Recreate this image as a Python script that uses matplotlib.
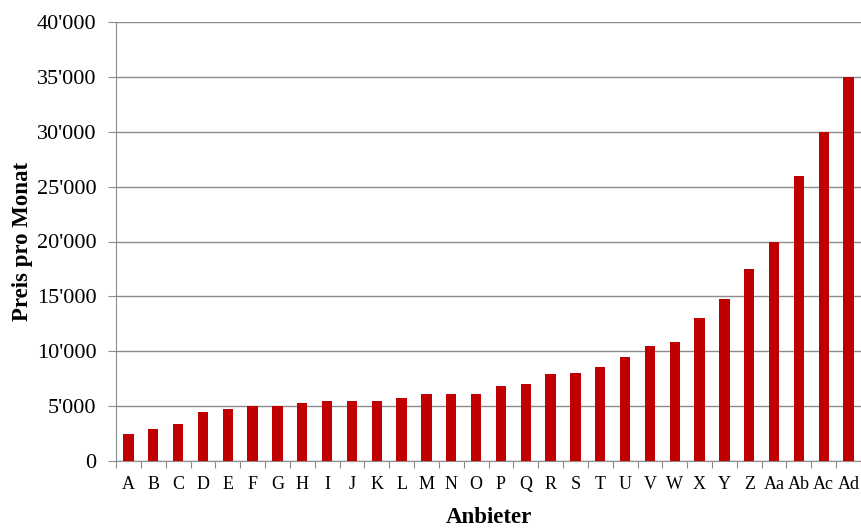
import numpy as np
import matplotlib.pyplot as plt
from matplotlib.ticker import FuncFormatter, MultipleLocator

anbieter = ['A', 'B', 'C', 'D', 'E', 'F', 'G', 'H', 'I', 'J', 'K', 'L', 'M', 'N', 'O',
            'P', 'Q', 'R', 'S', 'T', 'U', 'V', 'W', 'X', 'Y', 'Z', 'Aa', 'Ab', 'Ac', 'Ad']
preis = [2500, 2900, 3350, 4500, 4750, 5000, 5000, 5300, 5500, 5500, 5500, 5750, 6100, 6150, 6150,
         6800, 7000, 7950, 8000, 8550, 9500, 10500, 10800, 13000, 14800, 17500, 20000, 26000, 30000, 35000]

plt.rcParams['font.family'] = ['Liberation Serif', 'DejaVu Serif']
plt.rcParams['font.size'] = 12

fig = plt.figure(figsize=(8.61, 5.29), dpi=100)
ax = fig.add_axes([116/861, 1 - 461/529, 745/861, 439/529])

x = np.arange(len(anbieter))
ax.bar(x, preis, width=0.42, color='#C00000', zorder=3)

grey = '#8c8c8c'
ax.set_xlim(-0.5, len(anbieter) - 0.5)
ax.set_ylim(0, 40000)
ax.yaxis.set_major_locator(MultipleLocator(5000))
ax.yaxis.set_major_formatter(FuncFormatter(lambda v, p: '0' if v == 0 else f"{int(v):,}".replace(',', "'")))
ax.grid(axis='y', color=grey, linewidth=1, zorder=0)

# x ticks sit between categories, labels centred under bars
ax.set_xticks(np.arange(-0.5, len(anbieter) + 0.5, 1))
ax.set_xticklabels([])
ax.set_xticks(x, minor=True)
ax.set_xticklabels(anbieter, minor=True)
ax.tick_params(axis='x', which='major', direction='out', length=5, color=grey)
ax.tick_params(axis='x', which='minor', length=0, pad=11, labelsize=13)
ax.tick_params(axis='y', direction='out', length=6, color=grey, pad=8, labelsize=16)

for s in ['top', 'right']:
    ax.spines[s].set_visible(False)
ax.spines['left'].set_color(grey)
ax.spines['bottom'].set_color(grey)

ax.set_xlabel('Anbieter', fontweight='bold', fontsize=16.5, labelpad=10)
ax.set_ylabel('Preis pro Monat', fontweight='bold', fontsize=16.5)
ax.yaxis.set_label_coords((33 - 116) / 745, 0.5)

plt.savefig('out.png', dpi=100)
